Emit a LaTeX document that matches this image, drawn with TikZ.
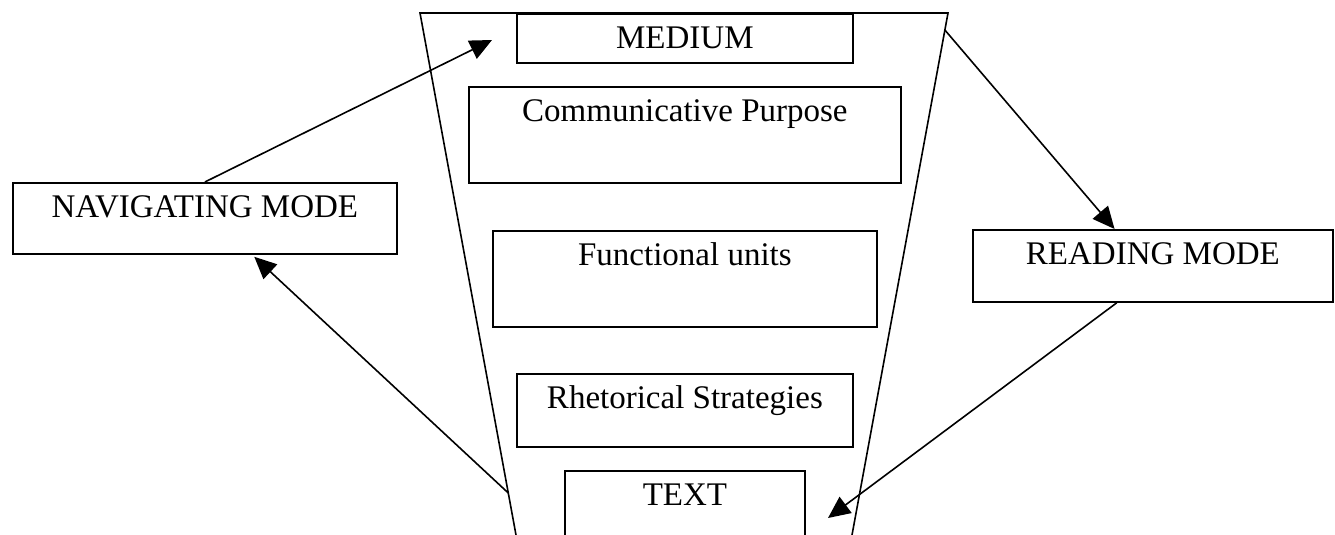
\documentclass[tikz,border=0pt]{standalone}
\usepackage{fontspec}
\setmainfont{Liberation Serif}
\usetikzlibrary{arrows.meta,calc}
\begin{document}
\begin{tikzpicture}[x=1pt,y=-1pt,
  box/.style={draw,line width=1.8pt,rectangle,anchor=north west,inner ysep=0pt,inner xsep=0pt,
    text height=35pt,font=\fontsize{33}{39}\selectfont},
  conn/.style={line width=1.6pt,-{Triangle[length=22pt,width=20pt]}},
  edge/.style={line width=1.6pt}]
\useasboundingbox (0,0) rectangle (1335,535);
\begin{scope}
\clip (0,0) rectangle (1335,535);
% funnel
\coordinate (tl) at (420,13);
\coordinate (tr) at (948,13);
\coordinate (bl) at (516,535);
\coordinate (br) at (852,535);
\draw[edge] (bl) -- (tl) -- (tr) -- (br);
% boxes
\node[box,minimum width=336pt,text depth=14pt] (med) at (516,13) {MEDIUM};
\node[box,minimum width=432pt,text depth=61pt] (cp) at (468,86) {Communicative Purpose};
\node[box,minimum width=384pt,text depth=61pt] (fu) at (492,230) {Functional units};
\node[box,minimum width=336pt,text depth=38pt] (rs) at (516,373) {Rhetorical Strategies};
\node[box,minimum width=240pt,text depth=45pt] (tx) at (564,470) {TEXT};
\node[box,minimum width=384pt,text depth=36pt] (nav) at (12,182) {NAVIGATING MODE};
\node[box,minimum width=360pt,text depth=37pt] (rd) at (972,229) {READING MODE};
% connector end points
\coordinate (a1end) at (492,40);
\coordinate (a2start) at ($(tl)!0.9195!(bl)$);
\coordinate (a3start) at ($(tr)!0.0326!(br)$);
\coordinate (a4end) at (828,518);
% connectors
\draw[conn] (nav.north) -- (a1end);
\draw[conn] (a2start) -- ($(nav.south west)!0.628!(nav.south east)+(0,2)$);
\draw[conn] (a3start) -- ($(rd.north west)!0.394!(rd.north east)$);
\draw[conn] ($(rd.south west)!0.4!(rd.south east)$) -- (a4end);
\end{scope}
\end{tikzpicture}
\end{document}
